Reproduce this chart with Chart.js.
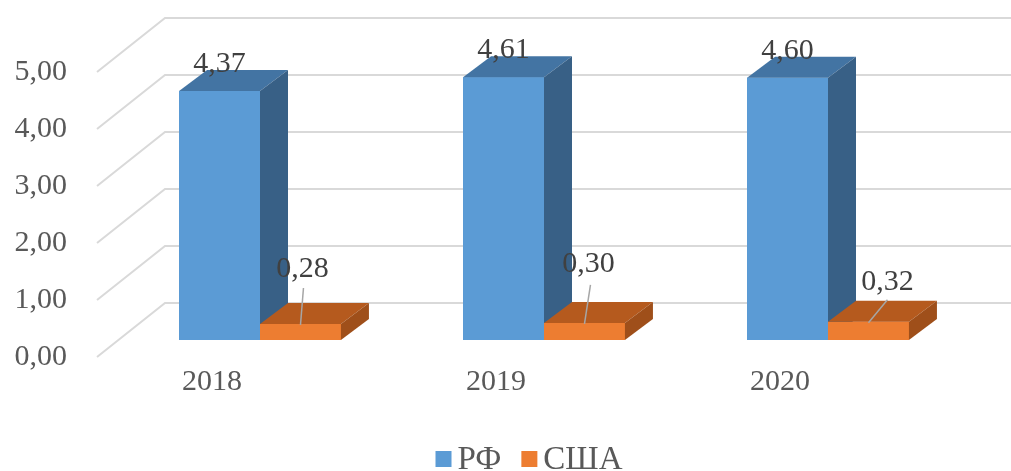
<!DOCTYPE html>
<html>
<head>
<meta charset="utf-8">
<script src="https://cdn.jsdelivr.net/npm/chart.js@4/dist/chart.umd.min.js"></script>
<style>
  html, body { margin: 0; padding: 0; background: #fff; }
  #wrap { width: 1011px; height: 471px; position: relative; }
</style>
</head>
<body>
<div id="wrap"><canvas id="chart"></canvas></div>
<script>
const years = ['2018', '2019', '2020'];
const rfValues = [4.37, 4.61, 4.60];
const usaValues = [0.28, 0.30, 0.32];
const seriesNames = ['РФ', 'США'];

const FONT = "'Liberation Serif', 'Times New Roman', serif";
const fmt = v => Number(v).toFixed(2).replace('.', ',');

// 3D look: bar depth and the floor/wall depth relative to the bar plane
const BAR_DX = 28, BAR_DY = -21;
const FRONT_DX = -21, FRONT_DY = 17;
const BACK_DX = 47, BACK_DY = -37;

const faces = [
  {front: '#5b9bd5', top: '#4374a3', side: '#386086'},
  {front: '#ed7d31', top: '#b55a1e', side: '#9f4f1a'}
];

// manual placement of the small labels, like in the source
const smallLabelPos = [
  {dx: 2, dy: -47, lx: 3, ly: -36},
  {dx: 4, dy: -51, lx: 6, ly: -38},
  {dx: 19, dy: -32, lx: 19, ly: -22}
];

const wallGrid = {
  id: 'wallGrid',
  beforeDatasetsDraw(chart) {
    const {ctx, chartArea, scales: {y}} = chart;
    ctx.save();
    ctx.strokeStyle = '#d9d9d9';
    ctx.lineWidth = 2;
    y.ticks.forEach(t => {
      const py = y.getPixelForValue(t.value);
      ctx.beginPath();
      ctx.moveTo(chartArea.left + FRONT_DX, py + FRONT_DY);
      ctx.lineTo(chartArea.left + BACK_DX, py + BACK_DY);
      ctx.lineTo(chart.width, py + BACK_DY);
      ctx.stroke();
    });
    ctx.restore();
  }
};

function poly(ctx, pts, color) {
  ctx.beginPath();
  ctx.moveTo(pts[0][0], pts[0][1]);
  for (let i = 1; i < pts.length; i++) ctx.lineTo(pts[i][0], pts[i][1]);
  ctx.closePath();
  ctx.fillStyle = color;
  ctx.fill();
}

const bars3d = {
  id: 'bars3d',
  afterDatasetsDraw(chart) {
    const ctx = chart.ctx;
    const metas = chart.data.datasets.map((d, i) => chart.getDatasetMeta(i));
    ctx.save();
    years.forEach((_, j) => {
      metas.forEach((meta, di) => {
        const bar = meta.data[j];
        const c = faces[di];
        const l = bar.x - bar.width / 2, r = bar.x + bar.width / 2;
        const t = bar.y, b = bar.base;
        poly(ctx, [[l, t], [r, t], [r, b], [l, b]], c.front);
        poly(ctx, [[l, t], [l + BAR_DX, t + BAR_DY], [r + BAR_DX, t + BAR_DY], [r, t]], c.top);
        poly(ctx, [[r, t], [r + BAR_DX, t + BAR_DY], [r + BAR_DX, b + BAR_DY], [r, b]], c.side);
      });
    });

    ctx.font = '30px ' + FONT;
    ctx.fillStyle = '#404040';
    ctx.textAlign = 'center';
    ctx.textBaseline = 'alphabetic';
    metas[0].data.forEach((bar, j) => {
      ctx.fillText(fmt(rfValues[j]), bar.x, bar.y - 19);
    });
    metas[1].data.forEach((bar, j) => {
      const p = smallLabelPos[j];
      ctx.strokeStyle = '#a6a6a6';
      ctx.lineWidth = 1.5;
      ctx.beginPath();
      ctx.moveTo(bar.x + p.lx, bar.y + p.ly);
      ctx.lineTo(bar.x, bar.y + 1);
      ctx.stroke();
      ctx.fillText(fmt(usaValues[j]), bar.x + p.dx, bar.y + p.dy);
    });
    ctx.restore();
  }
};

// legend drawn by hand to get Excel's tight box/text spacing
const bottomLegend = {
  id: 'bottomLegend',
  afterDraw(chart) {
    const ctx = chart.ctx;
    ctx.save();
    ctx.font = '33px ' + FONT;
    ctx.textBaseline = 'middle';
    ctx.textAlign = 'left';
    const box = 16, gap = 6, spacing = 20, cy = 459, center = 529;
    const widths = seriesNames.map(n => box + gap + ctx.measureText(n).width);
    const total = widths.reduce((a, b) => a + b, 0) + spacing * (seriesNames.length - 1);
    let x = center - total / 2;
    seriesNames.forEach((name, i) => {
      ctx.fillStyle = faces[i].front;
      ctx.fillRect(x, cy - box / 2, box, box);
      ctx.fillStyle = '#595959';
      ctx.fillText(name, x + box + gap, cy + 1);
      x += widths[i] + spacing;
    });
    ctx.restore();
  }
};

new Chart(document.getElementById('chart'), {
  type: 'bar',
  data: {
    labels: years,
    datasets: [
      {label: seriesNames[0], data: rfValues, backgroundColor: faces[0].front},
      {label: seriesNames[1], data: usaValues, backgroundColor: faces[1].front}
    ]
  },
  options: {
    responsive: true,
    maintainAspectRatio: false,
    animation: false,
    categoryPercentage: 0.57,
    barPercentage: 1.0,
    layout: {padding: {top: 55, right: 41, bottom: 0, left: 0}},
    plugins: {
      tooltip: {enabled: false},
      legend: {display: false}
    },
    scales: {
      x: {
        grid: {display: false, drawTicks: false},
        border: {display: false},
        ticks: {
          color: '#595959',
          font: {family: FONT, size: 30},
          padding: 24,
          labelOffset: -48
        },
        afterFit(scale) { scale.height = 131; }
      },
      y: {
        min: 0,
        max: 5,
        grid: {display: false, drawTicks: false},
        border: {display: false},
        ticks: {
          stepSize: 1,
          color: '#595959',
          font: {family: FONT, size: 30},
          padding: 51,
          labelOffset: 17,
          callback: v => fmt(v)
        },
        afterFit(scale) {
          scale.width = 118;
          scale.paddingTop = 0;
          scale.paddingBottom = 0;
        }
      }
    }
  },
  plugins: [wallGrid, bars3d, bottomLegend]
});
</script>
</body>
</html>
